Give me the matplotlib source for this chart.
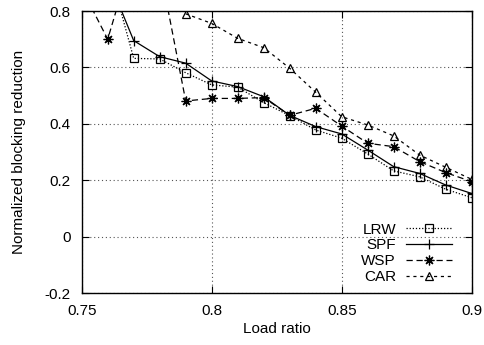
import matplotlib
matplotlib.use("Agg")
import matplotlib.pyplot as plt
import numpy as np

plt.rcParams['font.family'] = ['Liberation Sans', 'DejaVu Sans']

# load ratio on the x axis
load = [0.75, 0.76, 0.77, 0.78, 0.79, 0.80, 0.81, 0.82,
        0.83, 0.84, 0.85, 0.86, 0.87, 0.88, 0.89, 0.90]

# normalized blocking reduction per scheme (values above 0.8 are off the chart)
lrw = [1.10, 0.97, 0.632, 0.630, 0.581, 0.538, 0.530, 0.475,
       0.429, 0.378, 0.349, 0.293, 0.233, 0.212, 0.168, 0.138]
spf = [1.05, 0.92, 0.695, 0.638, 0.615, 0.552, 0.532, 0.496,
       0.430, 0.390, 0.364, 0.307, 0.248, 0.224, 0.183, 0.153]
wsp = [0.88, 0.70, 1.01, 0.957, 0.481, 0.490, 0.490, 0.493,
       0.430, 0.455, 0.392, 0.331, 0.319, 0.266, 0.227, 0.195]
car = [np.nan, np.nan, np.nan, np.nan, 0.790, 0.756, 0.703, 0.670,
       0.597, 0.512, 0.425, 0.396, 0.357, 0.289, 0.246, 0.203]

xticks = [0.75, 0.8, 0.85, 0.9]
xlabels = ['0.75', '0.8', '0.85', '0.9']
yticks = [-0.2, 0, 0.2, 0.4, 0.6, 0.8]
ylabels = ['-0.2', '0', '0.2', '0.4', '0.6', '0.8']

fig = plt.figure(figsize=(4.84, 3.45), dpi=100)
ax = fig.add_axes([0.1688, 0.1507, 0.8058, 0.8174])

lw = 0.9
ax.plot(load, lrw, color='black', lw=lw, linestyle=(0, (1, 1.5)),
        marker='s', markersize=5.8, markerfacecolor='none', markeredgewidth=0.9,
        label='LRW')
ax.plot(load, spf, color='black', lw=lw, linestyle='-',
        marker='+', markersize=7, markeredgewidth=0.9, label='SPF')
ax.plot(load, wsp, color='black', lw=lw, linestyle=(0, (5, 3)),
        marker=(8, 2, 0), markersize=7, markeredgewidth=0.9, label='WSP')
ax.plot(load, car, color='black', lw=lw, linestyle=(0, (2.5, 3)),
        marker='^', markersize=5.8, markerfacecolor='none', markeredgewidth=0.9,
        label='CAR')

ax.set_xlim(0.75, 0.9)
ax.set_ylim(-0.2, 0.8)
ax.set_xticks(xticks)
ax.set_xticklabels(xlabels)
ax.set_yticks(yticks)
ax.set_yticklabels(ylabels)
ax.tick_params(direction='in', length=5, width=0.8, labelsize=11,
               top=True, right=True)
ax.tick_params(axis='x', pad=8)
ax.tick_params(axis='y', pad=8)

ax.grid(True, color='#555555', linestyle=(0, (1, 2.5)), linewidth=0.8)
for s in ax.spines.values():
    s.set_linewidth(1.0)

ax.set_xlabel('Load ratio', fontsize=11, labelpad=3)
ax.set_ylabel('Normalized blocking reduction', fontsize=11, labelpad=13)

# marker after the text, texts end up right-justified
ax.legend(loc='lower right', bbox_to_anchor=(0.965, 0.01), markerfirst=False,
          frameon=False, fontsize=11, handlelength=3.0, handletextpad=0.66,
          labelspacing=0.12, borderaxespad=0.0, borderpad=0.4)

fig.savefig('out.png', dpi=100)
